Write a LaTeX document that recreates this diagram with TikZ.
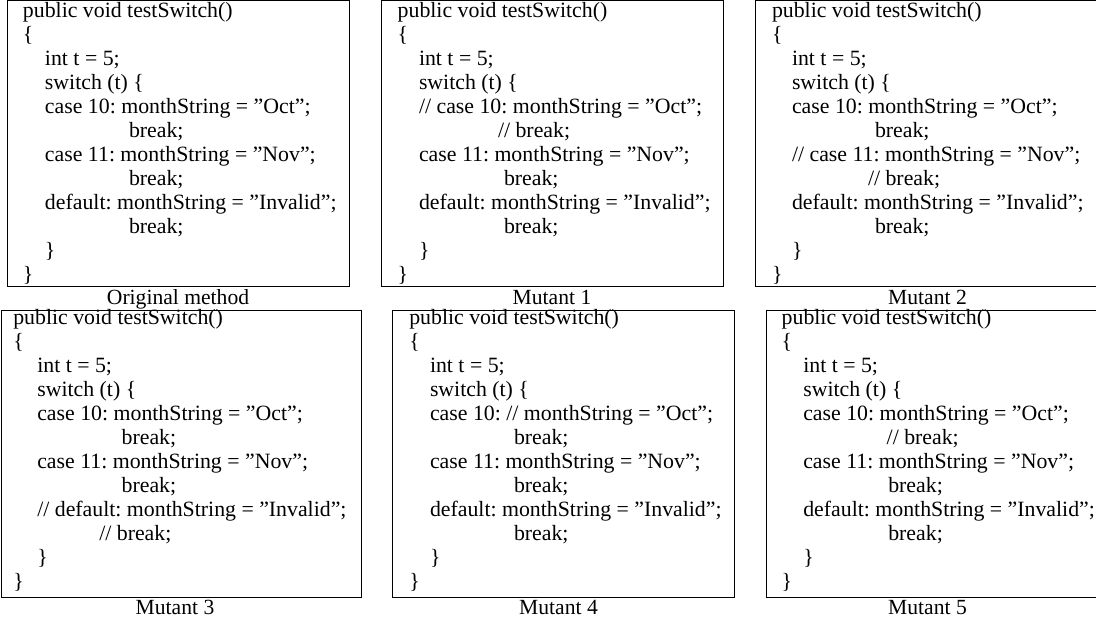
\documentclass[tikz,border=0pt]{standalone}
\usepackage{fontspec}
\setmainfont{Liberation Serif}
\frenchspacing
\newcommand\cl[4]{\node[codetext] (#1) at (#2,#3) {#4};}
\begin{document}
\begin{tikzpicture}[x=0.463pt,y=-0.463pt,
  codetext/.style={anchor=base west,inner sep=0pt,outer sep=0pt,font=\fontsize{10.1}{12}\selectfont\frenchspacing},
  captext/.style={anchor=base,inner sep=0pt,outer sep=0pt,font=\fontsize{10}{12}\selectfont},
  boxframe/.style={draw=black,line width=0.45pt}]
\clip (0,0) rectangle (1096,621);
\fill[white] (0,0) rectangle (1096,621);
% ---------- frames ----------
\draw[boxframe] (7.3,0.6) rectangle (349.3,286.7);
\draw[boxframe] (381,0.6) rectangle (723.3,286.7);
\draw[boxframe] (755,0.6) rectangle (1100,286.7);
\draw[boxframe] (1.6,310.7) rectangle (361,597.7);
\draw[boxframe] (392.3,310.7) rectangle (734.7,597.7);
\draw[boxframe] (766.7,310.7) rectangle (1108,597.7);
% ---------- Original method ----------
\cl{a0}{23}{17.3}{public void testSwitch()}
\cl{a1}{23}{41.3}{\{}
\cl{a2}{45}{65.3}{int t = 5;}
\cl{a3}{45}{89.3}{switch (t) \{}
\cl{a4}{45}{113.3}{case 10: monthString = ”Oct”;}
\cl{a5}{129}{137.3}{break;}
\cl{a6}{45}{161.3}{case 11: monthString = ”Nov”;}
\cl{a7}{129}{185.3}{break;}
\cl{a8}{45}{209.3}{default: monthString = ”Invalid”;}
\cl{a9}{129}{233.3}{break;}
\cl{a10}{45}{257.3}{\}}
\cl{a11}{23}{281.3}{\}}
\node[captext] (capa) at (178,304) {Original method};
% ---------- Mutant 1 ----------
\cl{b0}{397.7}{17.3}{public void testSwitch()}
\cl{b1}{397.7}{41.3}{\{}
\cl{b2}{419}{65.3}{int t = 5;}
\cl{b3}{419}{89.3}{switch (t) \{}
\cl{b4}{419}{113.3}{// case 10: monthString = ”Oct”;}
\cl{b5}{498}{137.3}{// break;}
\cl{b6}{419}{161.3}{case 11: monthString = ”Nov”;}
\cl{b7}{504}{185.3}{break;}
\cl{b8}{419}{209.3}{default: monthString = ”Invalid”;}
\cl{b9}{504}{233.3}{break;}
\cl{b10}{419}{257.3}{\}}
\cl{b11}{397.7}{281.3}{\}}
\node[captext] (capb) at (552,304) {Mutant 1};
% ---------- Mutant 2 ----------
\cl{c0}{772}{17.3}{public void testSwitch()}
\cl{c1}{772}{41.3}{\{}
\cl{c2}{792}{65.3}{int t = 5;}
\cl{c3}{792}{89.3}{switch (t) \{}
\cl{c4}{792}{113.3}{case 10: monthString = ”Oct”;}
\cl{c5}{875}{137.3}{break;}
\cl{c6}{792}{161.3}{// case 11: monthString = ”Nov”;}
\cl{c7}{868}{185.3}{// break;}
\cl{c8}{792}{209.3}{default: monthString = ”Invalid”;}
\cl{c9}{875}{233.3}{break;}
\cl{c10}{792}{257.3}{\}}
\cl{c11}{772}{281.3}{\}}
\node[captext] (capc) at (927.5,304) {Mutant 2};
% ---------- Mutant 3 ----------
\cl{d0}{13.3}{324.5}{public void testSwitch()}
\cl{d1}{13.3}{348.5}{\{}
\cl{d2}{37.3}{372.5}{int t = 5;}
\cl{d3}{37.3}{396.5}{switch (t) \{}
\cl{d4}{37.3}{420.5}{case 10: monthString = ”Oct”;}
\cl{d5}{121.7}{444.5}{break;}
\cl{d6}{37.3}{468.5}{case 11: monthString = ”Nov”;}
\cl{d7}{121.7}{492.5}{break;}
\cl{d8}{37.3}{516.5}{// default: monthString = ”Invalid”;}
\cl{d9}{99.3}{540.5}{// break;}
\cl{d10}{37.3}{564.5}{\}}
\cl{d11}{13.3}{588.5}{\}}
\node[captext] (capd) at (175,614) {Mutant 3};
% ---------- Mutant 4 ----------
\cl{e0}{409.3}{324.5}{public void testSwitch()}
\cl{e1}{409.3}{348.5}{\{}
\cl{e2}{430}{372.5}{int t = 5;}
\cl{e3}{430}{396.5}{switch (t) \{}
\cl{e4}{430}{420.5}{case 10: // monthString = ”Oct”;}
\cl{e5}{514}{444.5}{break;}
\cl{e6}{430}{468.5}{case 11: monthString = ”Nov”;}
\cl{e7}{514}{492.5}{break;}
\cl{e8}{430}{516.5}{default: monthString = ”Invalid”;}
\cl{e9}{514}{540.5}{break;}
\cl{e10}{430}{564.5}{\}}
\cl{e11}{409.3}{588.5}{\}}
\node[captext] (cape) at (558.5,614) {Mutant 4};
% ---------- Mutant 5 ----------
\cl{f0}{781.7}{324.5}{public void testSwitch()}
\cl{f1}{781.7}{348.5}{\{}
\cl{f2}{803.3}{372.5}{int t = 5;}
\cl{f3}{803.3}{396.5}{switch (t) \{}
\cl{f4}{803.3}{420.5}{case 10: monthString = ”Oct”;}
\cl{f5}{886.7}{444.5}{// break;}
\cl{f6}{803.3}{468.5}{case 11: monthString = ”Nov”;}
\cl{f7}{888.3}{492.5}{break;}
\cl{f8}{803.3}{516.5}{default: monthString = ”Invalid”;}
\cl{f9}{888.3}{540.5}{break;}
\cl{f10}{803.3}{564.5}{\}}
\cl{f11}{781.7}{588.5}{\}}
\node[captext] (capf) at (927.5,614) {Mutant 5};
\end{tikzpicture}
\end{document}
